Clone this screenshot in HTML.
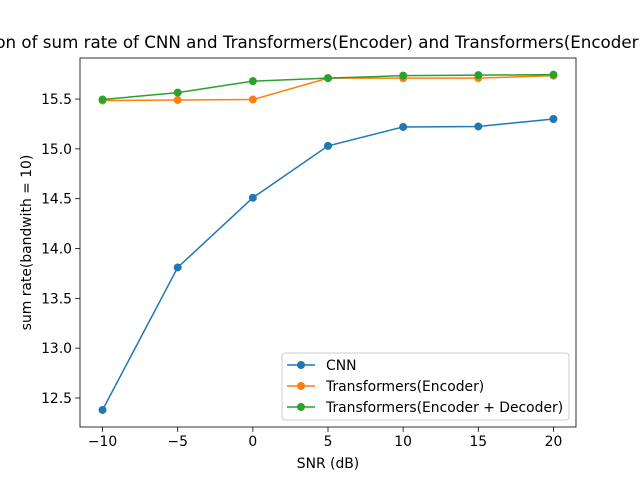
<!DOCTYPE html>
<html><head><meta charset="utf-8"><style>
body{margin:0;background:#fff}
svg{font-family:"DejaVu Sans","Liberation Sans",sans-serif}
</style></head><body>
<svg id="chart" width="640" height="480" viewBox="0 0 640 480" xmlns="http://www.w3.org/2000/svg">
<rect width="640" height="480" fill="#fff"/>
<text x="328" y="48" font-size="16.7" text-anchor="middle">Comparison of sum rate of CNN and Transformers(Encoder) and Transformers(Encoder + Decoder)</text>
<g id="plot"></g>
</svg>
<script>
const snr = [-10,-5,0,5,10,15,20];
const cnn = [12.38,13.81,14.51,15.03,15.22,15.225,15.30];
const enc = [15.485,15.49,15.495,15.71,15.71,15.71,15.735];
const encDec = [15.495,15.565,15.68,15.71,15.735,15.74,15.745];
const xTicks = [-10,-5,0,5,10,15,20];
const yTicks = [12.5,13.0,13.5,14.0,14.5,15.0,15.5];
const seriesNames = ["CNN","Transformers(Encoder)","Transformers(Encoder + Decoder)"];

const L=80,R=576,T=58,B=427;
const xMin=-11.5,xMax=21.5,yMin=12.209,yMax=15.912;
const xs=v=>L+(v-xMin)/(xMax-xMin)*(R-L);
const ys=v=>B-(v-yMin)/(yMax-yMin)*(B-T);
const NS="http://www.w3.org/2000/svg";
const g=document.getElementById('plot');
function mk(t,a,p){const e=document.createElementNS(NS,t);for(const k in a)e.setAttribute(k,a[k]);(p||g).appendChild(e);return e;}

xTicks.forEach(v=>{
  const x=xs(v);
  const tk=mk('line',{x1:x,x2:x,y1:B,y2:B+4.9,stroke:'#000','stroke-width':0.8});
  
  
  const t=mk('text',{x:x,y:B+19,'font-size':13.9,'text-anchor':'middle'});
  
  
  t.textContent=(v<0?'\u2212'+(-v):v);
});
yTicks.forEach(v=>{
  const y=ys(v);
  const tk=mk('line',{x1:L-4.9,x2:L,y1:y,y2:y,stroke:'#000','stroke-width':0.8});
  
  
  const t=mk('text',{x:L-8,y:y+5,'font-size':13.9,'text-anchor':'end'});
  
  
  t.textContent=v.toFixed(1);
});

const colors=['#1f77b4','#ff7f0e','#2ca02c'];
[cnn,enc,encDec].forEach((s,i)=>{
  const pts=s.map((v,j)=>xs(snr[j])+','+ys(v)).join(' ');
  const pl=mk('polyline',{points:pts,fill:'none',stroke:colors[i],'stroke-width':1.5});
  
  
  s.forEach((v,j)=>{
    const c=mk('circle',{cx:xs(snr[j]),cy:ys(v),r:4,fill:colors[i]});
    
    
  });
});

const frame=mk('rect',{x:L,y:T,width:R-L,height:B-T,fill:'none',stroke:'#000','stroke-width':0.8});



const xl=mk('text',{x:(L+R)/2,y:468,'font-size':13.9,'text-anchor':'middle'});


xl.textContent='SNR (dB)';
const yl=mk('text',{x:31,y:(T+B)/2,'font-size':13.9,'text-anchor':'middle',transform:'rotate(-90 31 '+((T+B)/2)+')'});


yl.textContent='sum rate(bandwith = 10)';

const lg=mk('g',{});


mk('rect',{x:282,y:353,width:287,height:67,rx:3,fill:'#fff','fill-opacity':0.8,stroke:'#ccc','stroke-width':1},lg);
seriesNames.forEach((n,i)=>{
  const y=365+i*21;
  const e=mk('g',{},lg);
  
  
  mk('line',{x1:287,x2:315,y1:y,y2:y,stroke:colors[i],'stroke-width':1.5},e);
  mk('circle',{cx:301,cy:y,r:4,fill:colors[i]},e);
  const t=mk('text',{x:326,y:y+5,'font-size':13.9},e);
  t.textContent=n;
});
</script>
</body></html>
